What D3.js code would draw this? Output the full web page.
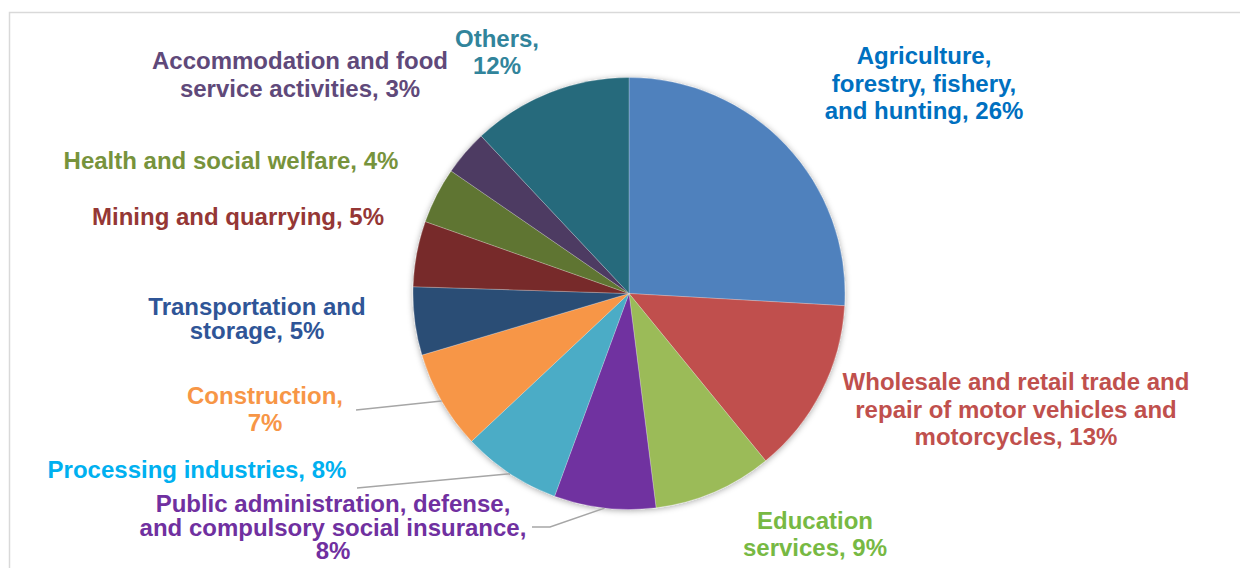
<!DOCTYPE html>
<html>
<head>
<meta charset="utf-8">
<script src="https://cdn.jsdelivr.net/npm/d3@7"></script>
<style>
  body { margin: 0; background: #ffffff; }
  svg { display: block; font-family: "Liberation Sans", Arial, sans-serif; }
</style>
</head>
<body>
<svg id="chart"></svg>
<script>
// Industry shares (percent), in clockwise order starting at 12 o'clock
const categories = [
  "Agriculture, forestry, fishery, and hunting",
  "Wholesale and retail trade and repair of motor vehicles and motorcycles",
  "Education services",
  "Public administration, defense, and compulsory social insurance",
  "Processing industries",
  "Construction",
  "Transportation and storage",
  "Mining and quarrying",
  "Health and social welfare",
  "Accommodation and food service activities",
  "Others"
];
const values = [25.9, 13.2, 8.9, 7.6, 7.4, 7.4, 5.1, 4.9, 4.2, 3.4, 12.0];
const percentLabels = ["26%", "13%", "9%", "8%", "8%", "7%", "5%", "5%", "4%", "3%", "12%"];
const sliceColors = ["#4F81BD", "#C0504D", "#9BBB59", "#7030A0", "#4BACC6", "#F79646",
                     "#2C4D75", "#772C2A", "#5F7530", "#4D3B62", "#276A7C"];
const textColors = ["#0070C0", "#C0504D", "#77B943", "#7030A0", "#00B0F0", "#F79646",
                    "#2F5597", "#953735", "#77933C", "#5F497A", "#31849B"];

// Label text lines (last line gets the percent appended)
const labelLines = [
  ["Agriculture,", "forestry, fishery,", "and hunting, "],
  ["Wholesale and retail trade and", "repair of motor vehicles and", "motorcycles, "],
  ["Education", "services, "],
  ["Public administration, defense,", "and compulsory social insurance,", ""],
  ["Processing industries, "],
  ["Construction,", ""],
  ["Transportation and", "storage, "],
  ["Mining and quarrying, "],
  ["Health and social welfare, "],
  ["Accommodation and food", "service activities, "],
  ["Others,", ""]
];

// Hand placed label anchors (centre x, first baseline, line height)
const labelPos = [
  { x: 924, y: 64, lh: 27.5 },
  { x: 1016, y: 390, lh: 27.5 },
  { x: 815, y: 529, lh: 27 },
  { x: 333, y: 512, lh: 23.5 },
  { x: 197, y: 478, lh: 27 },
  { x: 265, y: 404, lh: 27 },
  { x: 257, y: 315, lh: 24 },
  { x: 238, y: 225, lh: 27 },
  { x: 231, y: 169, lh: 27 },
  { x: 300, y: 69, lh: 28 },
  { x: 497, y: 47, lh: 27 }
];

// Leader lines: start point of the line (at the label), ends on slice mid-angle
const leaders = [
  { i: 5, pts: [[356, 410]] },
  { i: 4, pts: [[357, 488]] },
  { i: 3, pts: [[532, 527], [550, 527]] }
];

const width = 1240, height = 568;
const cx = 629, cy = 293.5, radius = 216;

const svg = d3.select("#chart")
  .attr("width", width)
  .attr("height", height);

// Soft shadow under the pie
const defs = svg.append("defs");
const filter = defs.append("filter")
  .attr("id", "pieShadow")
  .attr("x", "-20%").attr("y", "-20%")
  .attr("width", "140%").attr("height", "140%");
filter.append("feDropShadow")
  .attr("dx", 0).attr("dy", 1)
  .attr("stdDeviation", 3)
  .attr("flood-color", "#000")
  .attr("flood-opacity", 0.35);

// Chart frame (runs past the right and bottom edges)
svg.append("rect")
  .attr("x", 9.5).attr("y", 12.5)
  .attr("width", 1300).attr("height", 600)
  .attr("fill", "#ffffff")
  .attr("stroke", "#d9d9d9")
  .attr("stroke-width", 1.5);

const data = categories.map((c, i) => ({ name: c, value: values[i], i: i }));

const pie = d3.pie().sort(null).value(d => d.value);
const arcs = pie(data);
const arc = d3.arc().innerRadius(0).outerRadius(radius);

const g = svg.append("g").attr("transform", `translate(${cx},${cy})`);

g.append("g")
  .attr("filter", "url(#pieShadow)")
  .selectAll("path")
  .data(arcs)
  .join("path")
  .attr("d", arc)
  .attr("fill", d => sliceColors[d.data.i])
  .attr("stroke", "#ffffff")
  .attr("stroke-width", 0.4)
  .attr("stroke-opacity", 0.6);

// Leader lines
leaders.forEach(l => {
  const a = arcs[l.i];
  const mid = (a.startAngle + a.endAngle) / 2;
  const end = [cx + radius * Math.sin(mid), cy - radius * Math.cos(mid)];
  const pts = l.pts.concat([end]);
  svg.append("path")
    .attr("d", d3.line()(pts))
    .attr("fill", "none")
    .attr("stroke", "#a6a6a6")
    .attr("stroke-width", 1.5);
});

// Labels
const labels = svg.append("g")
  .attr("font-weight", "bold")
  .attr("font-size", "24px")
  .attr("text-anchor", "middle");

data.forEach((d, i) => {
  const pos = labelPos[i];
  const lines = labelLines[i].slice();
  lines[lines.length - 1] = lines[lines.length - 1] + percentLabels[i];
  const t = labels.append("text")
    .attr("fill", textColors[i]);
  lines.forEach((line, k) => {
    t.append("tspan")
      .attr("x", pos.x)
      .attr("y", pos.y + k * pos.lh)
      .text(line);
  });
});
</script>
</body>
</html>
